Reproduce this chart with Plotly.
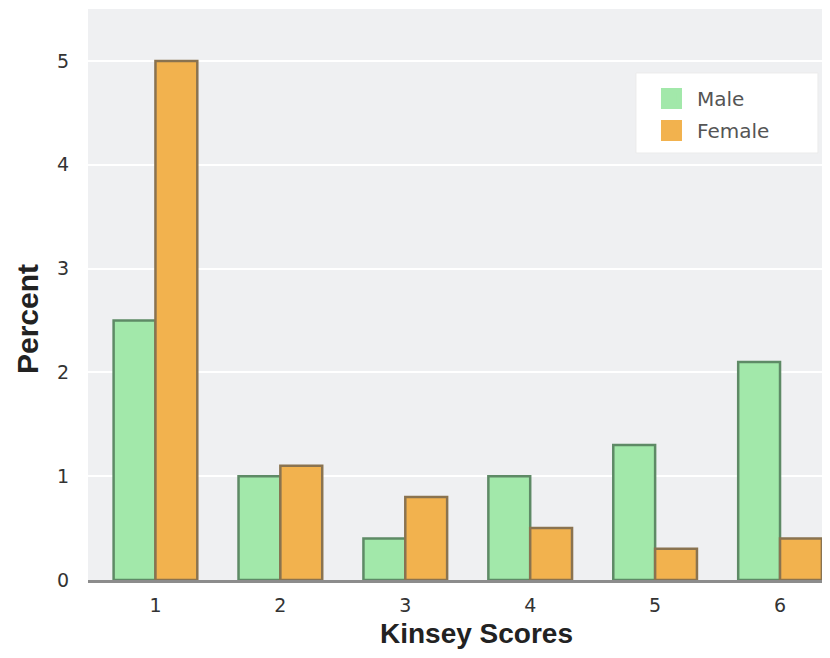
import plotly.graph_objects as go

scores = [1, 2, 3, 4, 5, 6]
tick_labels = ["1", "2", "3", "4", "5", "6"]
male = [2.5, 1.0, 0.4, 1.0, 1.3, 2.1]
female = [5.0, 1.1, 0.8, 0.5, 0.3, 0.4]

male_fill, male_edge = "#a2e8aa", "#5e8a66"
female_fill, female_edge = "#f2b24e", "#8a7350"

fig = go.Figure()
fig.add_trace(go.Bar(x=scores, y=male, name="Male", showlegend=False,
                     marker=dict(color=male_fill, line=dict(color=male_edge, width=2.5))))
fig.add_trace(go.Bar(x=scores, y=female, name="Female", showlegend=False,
                     marker=dict(color=female_fill, line=dict(color=female_edge, width=2.5))))
# legend-only entries with large square swatches
fig.add_trace(go.Scatter(x=[None], y=[None], mode="markers", name="Male", legendgroup="m",
                         marker=dict(symbol="square", size=16, color=male_fill,
                                     line=dict(color=male_fill, width=5))))
fig.add_trace(go.Scatter(x=[None], y=[None], mode="markers", name="Female", legendgroup="f",
                         marker=dict(symbol="square", size=16, color=female_fill,
                                     line=dict(color=female_fill, width=5))))

# legend background box
fig.add_shape(type="rect", xref="paper", yref="paper",
              x0=0.7385, x1=0.9838, y0=0.7478, y1=0.888,
              fillcolor="white", line=dict(color="#ebebeb", width=1), layer="above")

title_font = dict(family="Liberation Sans, Arial, sans-serif", size=28, color="#222")
fig.add_annotation(text="<b>Kinsey Scores</b>", xref="paper", yref="paper",
                   x=0.523, y=-0.0935, xanchor="center", yanchor="middle",
                   showarrow=False, font=title_font)
fig.add_annotation(text="<b>Percent</b>", xref="paper", yref="paper",
                   x=-0.0822, y=0.457, xanchor="center", yanchor="middle",
                   textangle=-90, showarrow=False, font=dict(title_font, size=30))

fig.update_layout(
    width=822, height=642,
    margin=dict(l=80, r=0, t=1, b=70),
    paper_bgcolor="white",
    plot_bgcolor="#eff0f2",
    barmode="group",
    bargap=0.33,
    bargroupgap=0,
    font=dict(family="DejaVu Sans, Verdana, sans-serif", color="#444"),
    legend=dict(x=0.752, y=0.8774, xanchor="left", yanchor="top",
                bgcolor="rgba(0,0,0,0)", borderwidth=0,
                font=dict(size=20, color="#555"),
                itemwidth=41, tracegroupgap=3),
    xaxis=dict(range=[0.46, 6.4], tickvals=scores, ticktext=tick_labels,
               showgrid=False, showline=True, linecolor="#8c8c8c", linewidth=3,
               ticks="", tickfont=dict(size=19, color="#333"), ticklabelstandoff=6,
               zeroline=False),
    yaxis=dict(range=[0, 5.5], tickvals=[0, 1, 2, 3, 4, 5],
               gridcolor="white", gridwidth=2, zeroline=False,
               ticks="", tickfont=dict(size=19, color="#333"), ticklabelstandoff=18),
)

fig.write_html("out.html")
